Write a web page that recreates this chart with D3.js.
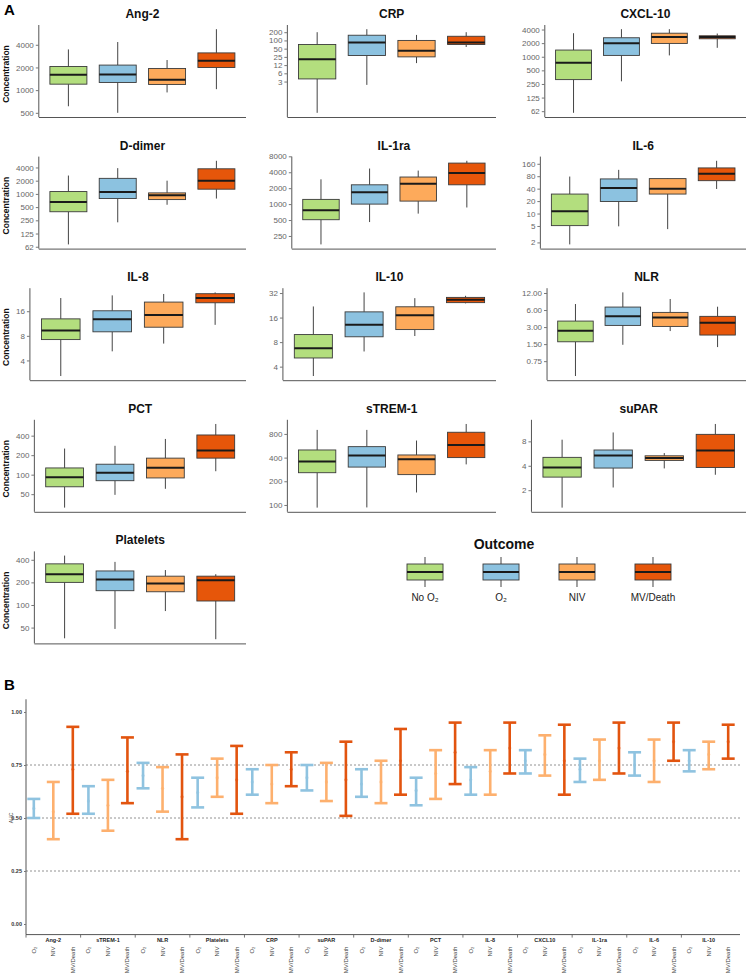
<!DOCTYPE html>
<html><head><meta charset="utf-8">
<script src="https://cdn.jsdelivr.net/npm/d3@7"></script>
<style>body{margin:0;background:#fff} svg{display:block;font-family:"Liberation Sans",Arial,sans-serif}</style>
</head><body><svg id="c" width="750" height="973"></svg>
<script>
// ---------- DATA ----------
const outcomes = ["No O\u2082", "O\u2082", "NIV", "MV/Death"];
const fills = ["#b3de7e", "#8cc2e0", "#fdaa5b", "#e6560a"];
// each row: [lower whisker, Q1, median, Q3, upper whisker] for No O2, O2, NIV, MV/Death
const ang2 = [[611,1200,1600,2062,3470],[500,1265,1615,2150,4350],[932,1190,1372,1940,2510],[1030,2000,2460,3120,6440]];
const crp = [[0.224,3.9,20.5,71,200],[2.36,28,84,155,258],[14.8,25,42,100,159],[57.5,71,84,142,200]];
const cxcl10 = [[57.5,312,736,1406,3316],[286,1070,2000,2630,4070],[1070,1970,2720,3316,4070],[1575,2496,2720,2908,3260]];
const ddimer = [[70.6,392,656,1130,2620],[225,783,1110,2260,3860],[565,742,932,1054,2000],[783,1280,2000,3730,5680]];
const il1ra = [[173,507,768,1228,2940],[458,1000,1677,2316,4700],[661,1140,2420,3250,4300],[863,2316,3885,5960,6590]];
const il6 = [[1.79,5.1,11.4,29.6,78.5],[4.9,19.6,41.5,68.8,114],[4.2,29.6,40,70,71.3],[39.3,62.4,91.3,127,189]];
const il8 = [[2.58,7.2,9.3,12.9,23.2],[5.17,8.96,12.8,16.2,25.0],[6.43,10.2,14.4,20.7,26],[10.9,20.3,23.3,26.2,27.2]];
const il10 = [[3.07,5.11,6.74,9.9,21.9],[6.14,9.3,13.1,18.8,32.6],[9.5,11.4,17.1,21.7,27.7],[23.9,24.4,26.5,28.3,29.6]];
const nlr = [[0.41,1.65,2.59,3.83,7.66],[1.46,3.21,4.64,6.77,12.3],[2.55,3.08,4.45,5.45,9.4],[1.33,2.17,3.58,4.64,6.87]];
const pct = [[31,65,91,127,253],[48.8,80.7,107,145,279],[60.5,89,128,180,356],[113,180,236,410,606]];
const strem1 = [[92.5,257,356,500,900],[93,303,424,551,900],[144,243,381,432,659],[328,400,577,840,1070]];
const supar = [[1.22,2.9,3.81,5.08,8.39],[2.16,3.75,5.36,6.26,10.3],[3.71,4.66,4.98,5.31,5.74],[3.1,3.81,6.17,9.76,13.1]];
const platelets = [[36,200,257,353,455],[48,155,219,284,375],[83,150,194,242,292],[35,113,213,242,257]];

const markerNames = ["Ang-2","CRP","CXCL-10","D-dimer","IL-1ra","IL-6","IL-8","IL-10","NLR","PCT","sTREM-1","suPAR","Platelets"];
const markerData = [ang2, crp, cxcl10, ddimer, il1ra, il6, il8, il10, nlr, pct, strem1, supar, platelets];
const tickVals = [
  [500,1000,2000,4000],
  [3.125,6.25,12.5,25,50,100,200],
  [62.5,125,250,500,1000,2000,4000],
  [62.5,125,250,500,1000,2000,4000],
  [250,500,1000,2000,4000,8000],
  [2,5,10,20,40,80,160],
  [4,8,16],
  [4,8,16,32],
  [0.75,1.5,3,6,12],
  [50,100,200,400],
  [100,200,400,800],
  [2,4,8],
  [50,100,200,400]
];
const tickLabs = [
  ["500","1000","2000","4000"],
  ["3","6","12","25","50","100","200"],
  ["62","125","250","500","1000","2000","4000"],
  ["62","125","250","500","1000","2000","4000"],
  ["250","500","1000","2000","4000","8000"],
  ["2","5","10","20","40","80","160"],
  ["4","8","16"],
  ["4","8","16","32"],
  ["0.75","1.50","3.00","6.00","12.00"],
  ["50","100","200","400"],
  ["100","200","400","800"],
  ["2","4","8"],
  ["50","100","200","400"]
];

// Panel B: AUC with [lower, estimate, upper] for O2, NIV, MV/Death
const aucMarkers = ["Ang-2","sTREM-1","NLR","Platelets","CRP","suPAR","D-dimer","PCT","IL-8","CXCL10","IL-1ra","IL-6","IL-10"];
const aucOutcomes = ["O\u2082","NIV","MV/Death"];
const aucColors = ["#8fc3e0","#fdb06e","#e2540f"];
const aucO2 =  [[0.50,0.545,0.59],[0.52,0.58,0.65],[0.64,0.70,0.76],[0.55,0.62,0.69],[0.61,0.67,0.73],[0.63,0.69,0.75],[0.60,0.66,0.73],[0.56,0.63,0.69],[0.61,0.68,0.74],[0.71,0.77,0.82],[0.67,0.73,0.78],[0.70,0.75,0.81],[0.72,0.77,0.82]];
const aucNIV = [[0.40,0.53,0.67],[0.44,0.56,0.68],[0.53,0.64,0.74],[0.60,0.69,0.78],[0.57,0.66,0.75],[0.58,0.67,0.76],[0.57,0.67,0.77],[0.59,0.71,0.82],[0.61,0.72,0.82],[0.70,0.80,0.89],[0.68,0.77,0.87],[0.67,0.77,0.87],[0.73,0.80,0.86]];
const aucMV =  [[0.52,0.73,0.93],[0.57,0.72,0.88],[0.40,0.60,0.80],[0.52,0.68,0.84],[0.65,0.73,0.81],[0.51,0.68,0.86],[0.61,0.77,0.92],[0.66,0.81,0.95],[0.71,0.83,0.95],[0.61,0.77,0.94],[0.71,0.83,0.95],[0.77,0.86,0.95],[0.78,0.86,0.94]];
const aucTicks = [0, 0.25, 0.5, 0.75, 1];
const aucRefLines = [0.25, 0.5, 0.75];

// ---------- DRAW ----------
const svg = d3.select("#c");
svg.append("rect").attr("width",750).attr("height",973).attr("fill","#fff");

function textWidth(str, size){
  const t = svg.append("text").attr("font-size",size).text(str);
  const w = t.node().getComputedTextLength(); t.remove(); return w;
}

svg.append("text").attr("x",4).attr("y",15).attr("font-size",15).attr("font-weight","bold").text("A");

const colOffsets = [17, 20, 23];
markerNames.forEach((name, i) => {
  const row = Math.floor(i/3), col = i%3;
  const data = markerData[i];
  const top = 25 + row*131.6, bottom = top + 92;
  const maxW = d3.max(tickLabs[i], s => textWidth(s, 8));
  const left = col*250 + colOffsets[col] + maxW + 4;
  const right = col*250 + 246;
  const lo = d3.min(data, d => d[0]), hi = d3.max(data, d => d[4]);
  const f = Math.pow(hi/lo, 0.05);
  const y = d3.scaleLog().base(2).domain([lo/f, hi*f]).range([bottom, top]);
  const x = d3.scaleBand().domain(outcomes).range([left, right]).paddingInner(0.25).paddingOuter(0.225);
  const g = svg.append("g");
  g.append("text").attr("x",(left+right)/2).attr("y",top-7).attr("text-anchor","middle")
    .attr("font-size",12).attr("font-weight","bold").attr("fill","#111").text(name);
  if (col === 0) {
    g.append("text").attr("transform",`translate(9,${(top+bottom)/2+3}) rotate(-90)`).attr("text-anchor","middle")
      .attr("font-size",8.5).attr("font-weight","bold").attr("fill","#111").text("Concentration");
  }
  data.forEach((d, k) => {
    const cx = x(outcomes[k]) + x.bandwidth()/2;
    g.append("line").attr("x1",cx).attr("x2",cx).attr("y1",y(d[4])).attr("y2",y(d[3])).attr("stroke","#444").attr("stroke-width",1);
    g.append("line").attr("x1",cx).attr("x2",cx).attr("y1",y(d[1])).attr("y2",y(d[0])).attr("stroke","#444").attr("stroke-width",1);
    g.append("rect").attr("x",x(outcomes[k])).attr("width",x.bandwidth()).attr("y",y(d[3])).attr("height",y(d[1])-y(d[3]))
      .attr("fill",fills[k]).attr("stroke","#3a3a3a").attr("stroke-width",0.9);
    g.append("line").attr("x1",x(outcomes[k])).attr("x2",x(outcomes[k])+x.bandwidth()).attr("y1",y(d[2])).attr("y2",y(d[2]))
      .attr("stroke","#1a1a1a").attr("stroke-width",2);
  });
  const ay = g.append("g").attr("transform",`translate(${left},0)`)
    .call(d3.axisLeft(y).tickValues(tickVals[i]).tickFormat((v,j)=>tickLabs[i][j]).tickSize(3).tickPadding(2));
  ay.select(".domain").attr("stroke","#555").attr("d",`M0,${top}V${bottom}`);
  ay.selectAll(".tick line").attr("stroke","#777");
  ay.selectAll(".tick text").attr("fill","#666").attr("font-size",8).attr("font-family",null);
  g.append("line").attr("x1",left).attr("x2",right).attr("y1",bottom+0.5).attr("y2",bottom+0.5).attr("stroke","#555").attr("stroke-width",1);
});

// legend
const lg = svg.append("g");
lg.append("text").attr("x",504).attr("y",549).attr("text-anchor","middle").attr("font-size",14).attr("font-weight","bold").attr("fill","#111").text("Outcome");
const legX = d3.scaleBand().domain(outcomes).range([407, 671]).paddingInner(0.526).paddingOuter(0);
outcomes.forEach((o,k) => {
  const x0 = legX(o), w = legX.bandwidth(), cx = x0 + w/2;
  lg.append("line").attr("x1",cx).attr("x2",cx).attr("y1",557).attr("y2",587).attr("stroke","#444");
  lg.append("rect").attr("x",x0).attr("y",564).attr("width",w).attr("height",16).attr("fill",fills[k]).attr("stroke","#3a3a3a").attr("stroke-width",0.9);
  lg.append("line").attr("x1",x0).attr("x2",x0+w).attr("y1",572).attr("y2",572).attr("stroke","#1a1a1a").attr("stroke-width",2);
  lg.append("text").attr("x",cx).attr("y",601).attr("text-anchor","middle").attr("font-size",10).attr("fill","#222").text(o);
});

// Panel B
svg.append("text").attr("x",4).attr("y",690).attr("font-size",15).attr("font-weight","bold").text("B");
const bLeft = 26, bRight = 736;
const yB = d3.scaleLinear().domain([0,1]).range([924, 712]);
const xB = d3.scaleBand().domain(aucMarkers).range([bLeft, bRight]).padding(0);
const xSub = d3.scalePoint().domain(aucOutcomes).range([-19.5, 19.5]);
const bg = svg.append("g");
aucRefLines.forEach(v => bg.append("line").attr("x1",bLeft).attr("x2",bRight+4).attr("y1",yB(v)).attr("y2",yB(v))
  .attr("stroke","#777").attr("stroke-width",0.8).attr("stroke-dasharray","2,2"));
const axB = bg.append("g").attr("transform",`translate(${bLeft},0)`)
  .call(d3.axisLeft(yB).tickValues(aucTicks).tickFormat(d3.format(".2f")).tickSize(2).tickPadding(2));
axB.select(".domain").attr("stroke","#555").attr("d",`M0,${yB(1.06)}V${yB(-0.05)}`);
axB.selectAll(".tick text").attr("font-size",5.5).attr("font-weight","bold").attr("fill","#333").attr("font-family",null);
axB.selectAll(".tick line").attr("stroke","#777");
bg.append("text").attr("transform",`translate(13,${yB(0.5)}) rotate(-90)`).attr("text-anchor","middle").attr("font-size",5).attr("fill","#333").text("AUC");
const aucSets = [aucO2, aucNIV, aucMV];
const yBase = yB(-0.05);
aucMarkers.forEach((m, i) => {
  const mc = xB(m) + xB.bandwidth()/2;
  aucSets.forEach((set, k) => {
    const d = set[i];
    const cx = mc + xSub(aucOutcomes[k]);
    const hw = 6.5;
    bg.append("line").attr("x1",cx).attr("x2",cx).attr("y1",yB(d[0])).attr("y2",yB(d[2])).attr("stroke",aucColors[k]).attr("stroke-width",2.6);
    bg.append("line").attr("x1",cx-hw).attr("x2",cx+hw).attr("y1",yB(d[0])).attr("y2",yB(d[0])).attr("stroke",aucColors[k]).attr("stroke-width",2.6);
    bg.append("line").attr("x1",cx-hw).attr("x2",cx+hw).attr("y1",yB(d[2])).attr("y2",yB(d[2])).attr("stroke",aucColors[k]).attr("stroke-width",2.6);
    bg.append("circle").attr("cx",cx).attr("cy",yB(d[1])).attr("r",1.6).attr("fill",aucColors[k]).attr("opacity",0.6);
    bg.append("text").attr("transform",`translate(${cx+2},${yBase+12}) rotate(-90)`).attr("text-anchor","end")
      .attr("font-size",6).attr("fill","#444").text(aucOutcomes[k]);
  });
  bg.append("text").attr("x",mc).attr("y",yBase+7).attr("text-anchor","middle")
    .attr("font-size",5.5).attr("font-weight","bold").attr("fill","#222").text(m);
  bg.append("line").attr("x1",xB(m)).attr("x2",xB(m)).attr("y1",yBase).attr("y2",yBase+3).attr("stroke","#777");
});
bg.append("line").attr("x1",bLeft).attr("x2",bRight+4).attr("y1",yBase).attr("y2",yBase).attr("stroke","#555");
</script></body></html>
